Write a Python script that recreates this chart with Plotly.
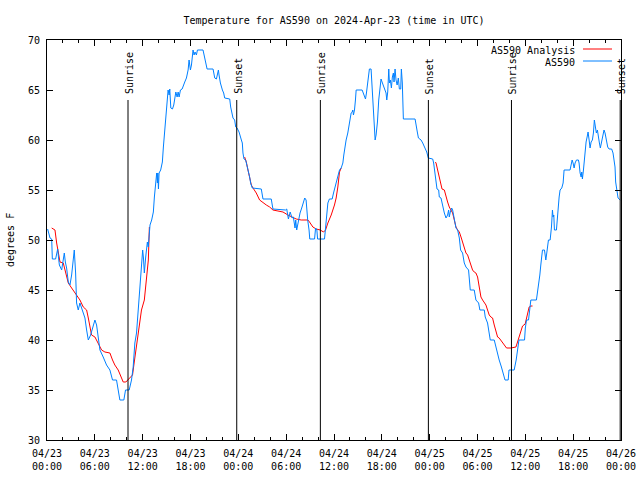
import pandas as pd
import plotly.graph_objects as go

# ---------------- data (hours since 2024-04-23 00:00 UTC) ----------------
# observations, day 1 (04/23)
obs_h1 = [0.08,0.25,0.38,0.59,0.67,1.08,1.21,1.34,1.45,1.55,1.84,2.04,2.17,2.3,2.46,2.67,2.88,3.09,3.3,3.42,3.59,3.71,3.92,4.13,4.34,4.55,4.76,4.97,5.18,5.47,5.8,6.01,6.22,6.43,6.64,7.05,7.47,7.89,8.22,8.72,8.93,9.14,9.64,9.85,10.31,10.6,10.81,11.02,11.23,
          11.44,11.58,11.75,11.87,12.0,12.1,12.21,12.38,12.5,12.59,12.7,12.8,12.92,13.13,13.34,13.47,13.63,13.76,13.85,13.9,13.98,14.06,14.26,14.47,14.6,
          14.78,14.9,15.07,15.19,15.32,15.4,15.53,15.74,15.9,16.03,16.16,16.32,16.45,16.57,16.74,16.95,17.07,17.28,17.49,17.7,17.82,17.9,17.99,18.12,18.24,18.32,18.45,18.57,18.74,18.87,19.57,19.7,19.91,20.08,20.83,21.04,21.25,21.37,21.5,21.58,21.75,22.0,22.16,22.29,22.92,23.04,23.17,23.33,23.54,23.67,23.84]
obs_t1 = [51.1,50.7,50.2,50.1,48.1,48.1,48.5,49.1,48.2,47.5,47,48,48.7,47.8,47.2,45.8,45.5,46.5,48.7,49,46.7,43.7,43,43.7,43.2,42.7,42.2,41,40,40.5,41.3,42,41.5,40.3,39,38.3,37.5,37,36,36,35,34,34,35,35,36,37.3,39.7,40.7,
          43,44,46.7,48,49,48.2,46.7,48.3,49.2,49.8,49.3,50.7,51.5,52,52.8,54.3,55.7,56.7,55.7,56.7,55.1,56.7,57,57.8,59.3,
          61,63,64.5,65,64.5,65.1,63.2,63.1,63.5,64.5,64.8,64.3,64.8,64.3,65,65.1,65.3,65.8,66.2,67,68,67.7,67,67.5,68.3,69,68.5,68.8,68.5,69,69,68.5,67.8,67.1,67.1,66.2,66.1,66.5,67,66.5,65.7,65,64.7,64.2,64.1,63.3,62.8,62.2,62,61.3,61.2]
# observations, day 2 (04/24)
obs_h2 = [24.09,24.38,24.5,24.58,24.71,24.92,25.09,25.21,25.42,25.54,25.75,26.88,27.01,27.09,28.13,28.34,
          29.93,30.07,30.28,30.4,30.5,30.74,30.9,31.11,31.2,31.32,31.53,31.74,31.95,32.16,32.33,32.5,32.58,32.7,32.87,32.96,
          33.56,33.69,33.85,33.94,34.81,35.02,35.23,35.42,35.77,35.94,36.15,36.27,36.48,36.69,36.9,37.11,37.23,37.36,37.52,37.73,37.86,38.03,38.15,38.28,38.36,38.44,38.57,38.69,38.78,
          39.53,39.82,39.95,40.07,40.19,40.32,40.44,40.65,40.74,40.86,41.03,41.16,41.28,41.45,41.61,41.78,41.9,42.03,42.2,42.4,42.53,42.62,42.74,42.87,42.95,43.07,43.2,43.32,43.45,43.53,43.66,43.78,43.92,44.07,44.2,44.37,44.45,44.57,44.7,46.17,46.3,46.45,46.59,46.92,
          47.13,47.46,47.63,47.83]
obs_t2 = [60.8,60,59.7,58.7,58.1,58,57.5,57,56.3,55.7,55.2,55.1,54.5,54.1,54.1,53.1,
          53,53.1,52.1,52.7,52.8,52.2,52.3,51.2,52,51,52,52.7,53.2,53.8,54.2,54,53.1,52,51,50.1,
          50.1,51.2,51,50.1,50.1,52.3,53.7,54.1,54.1,54.7,55.3,55.8,56.2,57,57.2,57.7,58.5,59.3,60,60.7,61.3,62.2,62.7,62.8,63,62.5,63,64,65,
          65,64.5,64.1,64.7,65.7,66.7,67.1,67.1,65.7,63.3,60.7,60,60.5,61.8,64,65.1,66.1,65.8,65.4,65,64.7,64,64.8,67.1,65.7,66,65.2,66.3,66.7,65.8,67.1,66,65.5,66.2,65.1,65.1,67.1,65.7,62.1,62.1,61.3,60.8,60.2,60,
          59.7,59.2,58.8,58.2]
# observations, day 3 (04/25)
obs_h3 = [48.38,48.5,48.67,48.8,48.92,49.13,49.21,49.42,49.55,49.71,49.84,50.05,50.25,50.38,50.46,50.59,50.76,50.88,51.0,51.17,51.3,51.51,51.72,51.88,52.13,52.34,52.55,52.88,52.97,53.09,53.59,53.8,54.14,54.3,54.85,54.97,55.26,55.47,55.6,56.1,56.31,56.52,56.72,57.0,57.3,57.45,57.85,57.95,58.6,58.85,59.2,59.9,60.0,60.15,60.4,60.56,60.69,61.39,61.52,61.65,61.82,61.94,62.07,62.15,62.4,62.57,62.69,62.9,63.11,63.28,63.4,63.48,63.57,63.65,63.9,64.03,64.15,64.24,64.36,64.57,64.74,64.86,65.61,65.74,65.87,65.99,66.12,66.24,66.41,66.66,66.74,66.87,67.0,67.08,67.16,67.29,67.41,67.5,67.62,67.75,67.87,68.0,68.12,68.25,68.41,68.54,68.66,68.79,68.91,69.04,69.16,69.29,69.41,69.58,69.75,69.87,70.0,70.17,70.33,70.5,70.83,71.0,71.12,71.25,71.33,71.46,71.63,71.9]
obs_t3 = [58.1,57.7,56.7,56,55.1,55,54.3,54.2,53.7,53.2,52.7,52.2,52.5,53,52.3,52.8,53.2,53,52.5,51.7,51.2,51,50.2,49,48.7,47.7,47.3,47,45.7,45,45,44,43.7,43,43,42.3,41.7,40.8,40,40,39.3,38.5,38,37.3,36.5,36,36,37,37,38,40,40,41.2,42,42,43.3,44,44,44.7,45.5,46.5,47.5,48.5,49,49,48,48.7,50,50,51.3,53,52.3,52.5,51,51,52.5,53.3,54.3,55,55.2,55.7,57,57,57.7,58,57.7,57.2,57.7,58,58,57.7,56.7,56.3,56.8,56.1,57,58.3,59.3,59.8,60.3,60.8,60,59.2,59.8,60,60.7,62,61.3,60.7,61,60.2,59.7,59.2,60,60.5,61,60.7,59.8,59.3,59.1,59.1,58.7,58.2,57.3,55.8,55,54.2,54]

# analysis (three overnight runs)
ana1_hours = [0.59,1.0,1.21,1.42,1.63,2.04,2.25,2.46,2.67,3.09,3.51,3.8,4.13,4.55,4.97,5.18,5.38,5.59,6.01,6.43,6.85,7.26,7.89,8.22,8.51,8.93,9.35,9.56,9.89,10.31,10.73,10.93,11.23,11.56,11.85,12.21,12.5,12.71,12.84]
ana1_temp = [51.2,51.0,49.7,48.7,47.8,47.7,47,46.3,45.7,45.2,44.7,44.3,44,43.3,43,42.2,41.3,40.5,40.3,39.7,39,38.8,38.7,38,37.5,37,36.3,35.8,35.8,36.2,36.5,37.7,39.3,41,43,44,46.3,48,51.3]
ana2_hours = [24.79,25.0,25.21,25.42,25.63,25.84,26.25,26.67,27.09,27.51,27.93,28.34,28.97,29.6,30.22,30.85,31.26,31.89,32.73,32.93,33.35,33.77,34.27,34.69,34.94,35.23,35.65,36.06,36.27,36.48,36.69,36.9]
ana2_temp = [58.3,57.8,57,56.3,55.5,55.2,54.7,54,53.7,53.5,53.3,53,52.9,52.8,52.5,52.3,52.1,52,52,51.8,51.3,51.1,51,50.8,51,51.7,52.5,53.5,54.2,55.3,56.8,57.2]
ana3_hours = [48.71,48.8,49.0,49.21,49.42,49.55,49.84,50.05,50.25,50.46,50.67,50.88,51.09,51.3,51.51,51.72,51.93,52.13,52.34,52.55,52.76,52.97,53.18,53.38,53.59,53.8,54.01,54.22,54.43,54.64,54.85,55.06,55.26,55.47,55.68,55.89,56.1,56.31,56.52,56.72,57.06,57.35,57.64,58.19,58.82,59.02,59.23,59.44,59.65,59.98,60.15,60.3,60.48,60.69,60.9]
ana3_temp = [57.8,57.7,57,56.3,55.7,55.1,55,54.3,53.8,53.3,53,52.7,52,51.3,51,50.8,50.3,49.7,49.3,48.7,48.5,48,47.5,47,46.8,46.7,46.3,45.3,44.3,44,43.8,43.5,43,42.5,42.3,42.2,41.5,40.8,40.3,40.2,39.8,39.5,39.2,39.2,39.3,39.8,40.3,40.9,41.4,41.6,42.2,42.8,43.3,43.4,43.4]

sun_labels = ["Sunrise", "Sunset", "Sunrise", "Sunset", "Sunrise", "Sunset"]
sun_hours = [10.16, 23.8, 34.29, 47.84, 58.26, 71.9]

tick_hours = [0, 6, 12, 18, 24, 30, 36, 42, 48, 54, 60, 66, 72]
tick_text = ["04/23<br>00:00", "04/23<br>06:00", "04/23<br>12:00", "04/23<br>18:00",
             "04/24<br>00:00", "04/24<br>06:00", "04/24<br>12:00", "04/24<br>18:00",
             "04/25<br>00:00", "04/25<br>06:00", "04/25<br>12:00", "04/25<br>18:00",
             "04/26<br>00:00"]

base = pd.Timestamp("2024-04-23 00:00")
def t(hours):
    return [base + pd.Timedelta(hours=h) for h in hours]

RED = "#ff0000"
BLUE = "#0080ff"
FONT = "DejaVu Sans Mono"

fig = go.Figure()
ana_x = t(ana1_hours) + [None] + t(ana2_hours) + [None] + t(ana3_hours)
ana_y = ana1_temp + [None] + ana2_temp + [None] + ana3_temp
fig.add_trace(go.Scatter(x=ana_x, y=ana_y, mode="lines", name="AS590 Analysis",
                         line=dict(color=RED, width=1), connectgaps=False))
fig.add_trace(go.Scatter(x=t(obs_h1 + obs_h2 + obs_h3), y=obs_t1 + obs_t2 + obs_t3,
                         mode="lines", name="AS590", line=dict(color=BLUE, width=1)))

for lbl, h in zip(sun_labels, sun_hours):
    tx = base + pd.Timedelta(hours=h)
    fig.add_shape(type="line", xref="x", yref="y", x0=tx, x1=tx, y0=30, y1=64,
                  line=dict(color="black", width=1))
    fig.add_annotation(x=tx, y=64.4, xref="x", yref="y", text=lbl, textangle=-90,
                       showarrow=False, yanchor="bottom", xanchor="center", xshift=1,
                       font=dict(family=FONT, size=10, color="black"))

L, R, T, B = 47, 621, 40, 440
W, H = R - L, B - T
def px(x): return (x - L) / W
def py(y): return 1 - (y - T) / H
for i, (name, col) in enumerate([("AS590 Analysis", RED), ("AS590", BLUE)]):
    yy = 50 + 12 * i
    fig.add_annotation(xref="paper", yref="paper", x=px(577), y=py(yy), text=name,
                       showarrow=False, xanchor="right", yanchor="middle",
                       font=dict(family=FONT, size=10, color="black"))
    fig.add_shape(type="line", xref="paper", yref="paper", x0=px(583), x1=px(612),
                  y0=py(yy - 1), y1=py(yy - 1), line=dict(color=col, width=1))

fig.add_annotation(xref="paper", yref="paper", x=px(10), y=0.5, text="degrees F",
                   textangle=-90, showarrow=False, xanchor="center", yanchor="middle",
                   font=dict(family=FONT, size=10, color="black"))

fig.update_layout(
    width=640, height=480,
    margin=dict(l=L, r=640 - R, t=T, b=480 - B, autoexpand=False),
    paper_bgcolor="white", plot_bgcolor="white",
    showlegend=False,
    font=dict(family=FONT, size=10, color="black"),
    title=dict(text="Temperature for AS590 on 2024-Apr-23 (time in UTC)",
               x=0.5, xref="paper", y=1 - 20 / 480, yref="container",
               xanchor="center", yanchor="middle",
               font=dict(family=FONT, size=10, color="black")),
)
fig.update_xaxes(
    range=[base, base + pd.Timedelta(hours=72)],
    tickvals=t(tick_hours), ticktext=tick_text,
    ticks="inside", ticklen=6, tickcolor="black", tickwidth=1,
    minor=dict(ticks="inside", ticklen=3, dtick=2 * 3600 * 1000, tickcolor="black"),
    showline=True, linecolor="black", linewidth=1, mirror="allticks",
    showgrid=False, zeroline=False, ticklabelstandoff=4,
    tickfont=dict(family=FONT, size=10, color="black"),
)
fig.update_yaxes(
    range=[30, 70], dtick=5, tick0=30,
    ticks="inside", ticklen=6, tickcolor="black", tickwidth=1,
    showline=True, linecolor="black", linewidth=1, mirror="allticks",
    showgrid=False, zeroline=False, ticklabelstandoff=4,
    tickfont=dict(family=FONT, size=10, color="black"),
)

fig.write_html("out.html", config={"displayModeBar": False},
               post_script="document.body.style.margin='0';document.body.style.overflow='hidden';")
